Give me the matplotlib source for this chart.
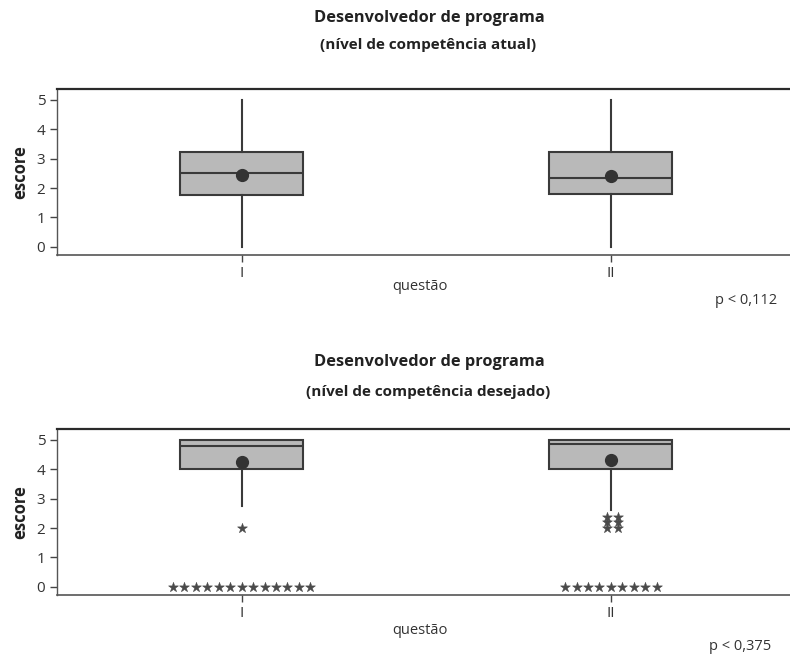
import numpy as np
import matplotlib
matplotlib.use("Agg")
import matplotlib.pyplot as plt

plt.rcParams["font.family"] = ["Open Sans", "DejaVu Sans"]

# ===================== DADOS =====================

questoes = ["I", "II"]

# nível de competência atual
atual_q1 = [1.75, 1.79]
atual_med = [2.50, 2.35]
atual_q3 = [3.24, 3.21]
atual_wlo = [0.0, 0.0]
atual_whi = [5.0, 5.0]
atual_media = [2.45, 2.41]

# nível de competência desejado
desej_q1 = [4.0, 4.0]
desej_med = [4.80, 4.85]
desej_q3 = [5.0, 5.0]
desej_wlo = [2.75, 2.60]
desej_whi = [5.0, 5.0]
desej_media = [4.25, 4.33]

# outliers (valor, quantidade) por questão
desej_out_zero = [13, 9]
desej_out_dois = [1, 6]

p_atual = "p < 0,112"
p_desej = "p < 0,375"

W, H = 790, 655
BOX_FACE = "#b9b9b9"
EDGE = "#3a3a3a"
STAR = "#4a4a4a"


def fig_xy(px, py):
    return px / W, 1 - py / H


def make_stats(q1, med, q3, wlo, whi, media):
    stats = []
    for i in range(len(q1)):
        stats.append({
            "q1": q1[i], "med": med[i], "q3": q3[i],
            "whislo": wlo[i], "whishi": whi[i], "mean": media[i],
            "fliers": [],
        })
    return stats


def draw_panel(ax, stats):
    ax.bxp(
        stats,
        positions=[1, 2],
        widths=0.333,
        patch_artist=True,
        showmeans=True,
        showcaps=False,
        boxprops=dict(facecolor=BOX_FACE, edgecolor=EDGE, linewidth=1.5),
        medianprops=dict(color=EDGE, linewidth=1.5),
        whiskerprops=dict(color=EDGE, linewidth=1.5),
        meanprops=dict(marker="o", markerfacecolor="#333333",
                       markeredgecolor="#333333", markersize=8.5),
    )
    ax.set_xlim(0.5, 2.485)
    ax.set_ylim(-0.28, 5.37)
    ax.set_yticks([0, 1, 2, 3, 4, 5])
    ax.set_xticks([1, 2])
    ax.set_xticklabels(questoes)
    ax.spines["right"].set_visible(False)
    ax.spines["top"].set_linewidth(1.6)
    ax.spines["top"].set_color("#2a2a2a")
    ax.spines["left"].set_color("#555555")
    ax.spines["bottom"].set_color("#555555")
    ax.spines["left"].set_linewidth(1.0)
    ax.spines["bottom"].set_linewidth(1.2)
    ax.tick_params(axis="both", direction="out", length=5, width=1.0,
                   color="#444444", labelsize=11, labelcolor="#333333")
    ax.tick_params(axis="x", pad=3)
    ax.set_ylabel("escore", fontsize=12, fontweight="bold", color="#222222",
                  labelpad=5)


fig = plt.figure(figsize=(W / 100, H / 100), dpi=100)

ax1 = fig.add_axes([57 / W, 1 - 255 / H, (W - 57) / W, (255 - 89) / H])
ax2 = fig.add_axes([57 / W, 1 - 595 / H, (W - 57) / W, (595 - 429) / H])

draw_panel(ax1, make_stats(atual_q1, atual_med, atual_q3,
                           atual_wlo, atual_whi, atual_media))
draw_panel(ax2, make_stats(desej_q1, desej_med, desej_q3,
                           desej_wlo, desej_whi, desej_media))

# outliers desenhados como asteriscos
passo = 0.031
star_kw = dict(marker="*", s=55, color=STAR, edgecolors=STAR,
               linewidths=0.4, zorder=5)
for i, pos in enumerate([1, 2]):
    n = desej_out_zero[i]
    xs = pos + (np.arange(n) - (n - 1) / 2) * passo
    ax2.scatter(xs, np.zeros(n), **star_kw)

    n2 = desej_out_dois[i]
    if n2 == 1:
        ax2.scatter([pos], [2.0], **star_kw)
    else:
        cols = 2
        idx = np.arange(n2)
        xs2 = pos + 0.005 + ((idx % cols) - (cols - 1) / 2) * passo
        ys2 = 2.0 + (idx // cols) * 0.19
        ax2.scatter(xs2, ys2, **star_kw)

# títulos e textos
tit_kw = dict(ha="center", va="center", fontweight="bold", color="#222222")
fig.text(*fig_xy(429, 18), "Desenvolvedor de programa", fontsize=11.8, **tit_kw)
fig.text(*fig_xy(428, 45), "(nível de competência atual)", fontsize=11, **tit_kw)
fig.text(*fig_xy(429, 362), "Desenvolvedor de programa", fontsize=11.8, **tit_kw)
fig.text(*fig_xy(428, 392), "(nível de competência desejado)", fontsize=11, **tit_kw)

fig.text(*fig_xy(420, 287), "questão", ha="center", va="center",
         fontsize=10.5, color="#333333")
fig.text(*fig_xy(420, 631), "questão", ha="center", va="center",
         fontsize=10.5, color="#333333")
fig.text(*fig_xy(777, 300), p_atual, ha="right", va="center",
         fontsize=10.5, color="#333333")
fig.text(*fig_xy(771, 647), p_desej, ha="right", va="center",
         fontsize=10.5, color="#333333")

fig.savefig("out.png", dpi=100)
